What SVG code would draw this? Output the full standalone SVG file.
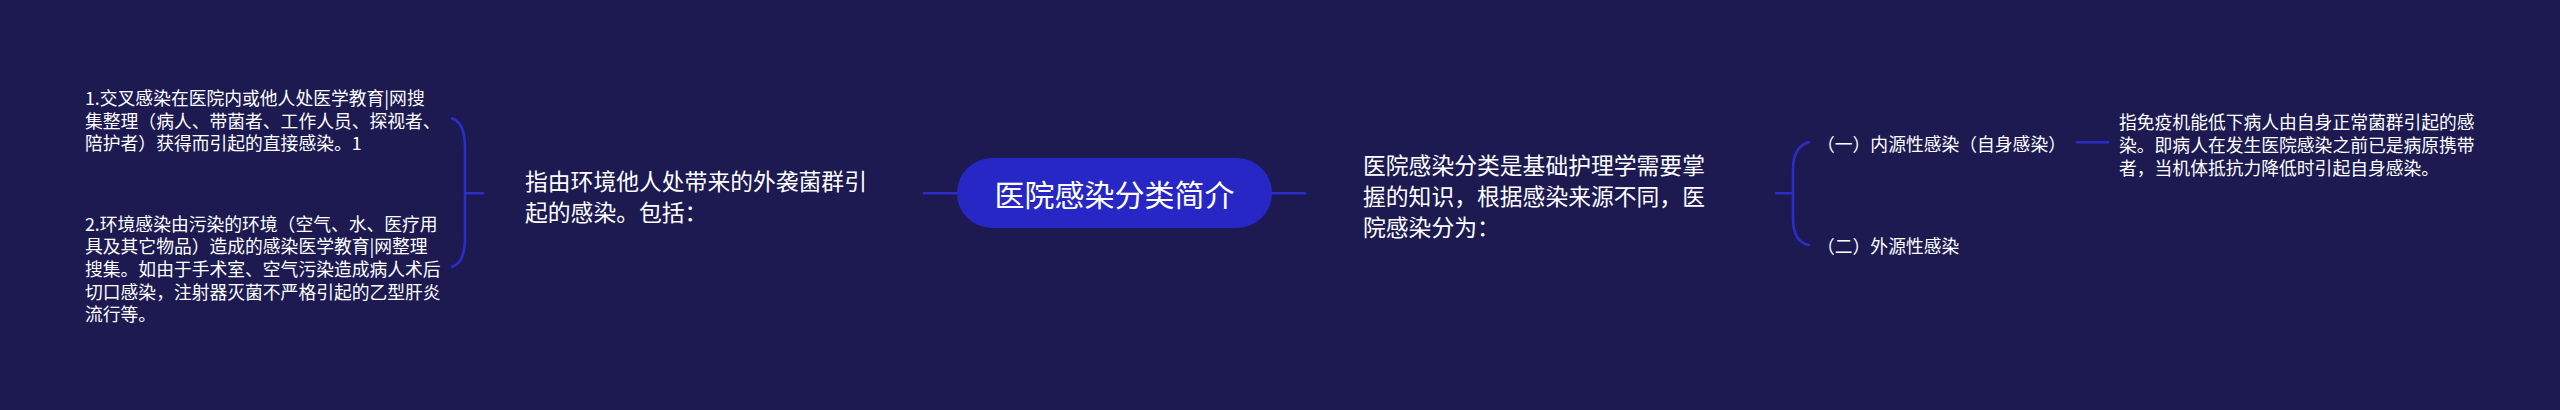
<svg xmlns="http://www.w3.org/2000/svg" width="2560" height="410" viewBox="0 0 2560 410">
<style>
text{font-family:"Noto Sans CJK SC","Noto Sans",sans-serif;fill:#ffffff;dominant-baseline:central}
.t1{font-size:22.8px}
.t2{font-size:17.8px}
.root{font-size:30px;text-anchor:middle}
.c{fill:none;stroke:#2c2cc9;stroke-width:2.6;stroke-linecap:round}
</style>
<rect x="0" y="0" width="2560" height="410" fill="#1c1a51"/>
<g id="connectors">
<path class="c" d="M924,193.3 L957,193.3"/>
<path class="c" d="M1272,193.3 L1305,193.3"/>
<path class="c" d="M452,118.5 C461,121 465,132 465,148 L465,238 C465,254 461,264 452,266.7"/>
<path class="c" d="M465,193.3 L483,193.3"/>
<path class="c" d="M1809,142.3 C1798,145 1793,155 1793,170 L1793,218 C1793,233 1798,243 1809,245"/>
<path class="c" d="M1776,193.3 L1793,193.3"/>
<path class="c" d="M2077,142.3 L2108,142.3"/>
</g>
<g id="root">
<rect x="957" y="158" width="315" height="70" rx="35" fill="#2727c6"/>
<text class="root" x="1114.5" y="193.3">医院感染分类简介</text>
</g>
<g id="left1">
<text class="t1" x="525"><tspan x="525" y="180">指由环境他人处带来的外袭菌群引</tspan><tspan x="525" y="210.7">起的感染。包括：</tspan></text>
</g>
<g id="left1-a">
<text class="t2"><tspan x="85" y="96.7">1.交叉感染在医院内或他人处医学教育|网搜</tspan><tspan x="85" y="119.5">集整理（病人、带菌者、工作人员、探视者、</tspan><tspan x="85" y="142.3">陪护者）获得而引起的直接感染。1</tspan></text>
</g>
<g id="left1-b">
<text class="t2"><tspan x="85" y="222.8">2.环境感染由污染的环境（空气、水、医疗用</tspan><tspan x="85" y="245.4">具及其它物品）造成的感染医学教育|网整理</tspan><tspan x="85" y="268">搜集。如由于手术室、空气污染造成病人术后</tspan><tspan x="85" y="290.6">切口感染，注射器灭菌不严格引起的乙型肝炎</tspan><tspan x="85" y="313.2">流行等。</tspan></text>
</g>
<g id="right1">
<text class="t1"><tspan x="1363" y="163.5">医院感染分类是基础护理学需要掌</tspan><tspan x="1363" y="194.5">握的知识，根据感染来源不同，医</tspan><tspan x="1363" y="225.5">院感染分为：</tspan></text>
</g>
<g id="right2a">
<text class="t2" x="1817" y="143.3">（一）内源性感染（自身感染）</text>
</g>
<g id="right2b">
<text class="t2" x="1817" y="245">（二）外源性感染</text>
</g>
<g id="right3">
<text class="t2"><tspan x="2119" y="120.7">指免疫机能低下病人由自身正常菌群引起的感</tspan><tspan x="2119" y="143.7">染。即病人在发生医院感染之前已是病原携带</tspan><tspan x="2119" y="166.7">者，当机体抵抗力降低时引起自身感染。</tspan></text>
</g>
</svg>
